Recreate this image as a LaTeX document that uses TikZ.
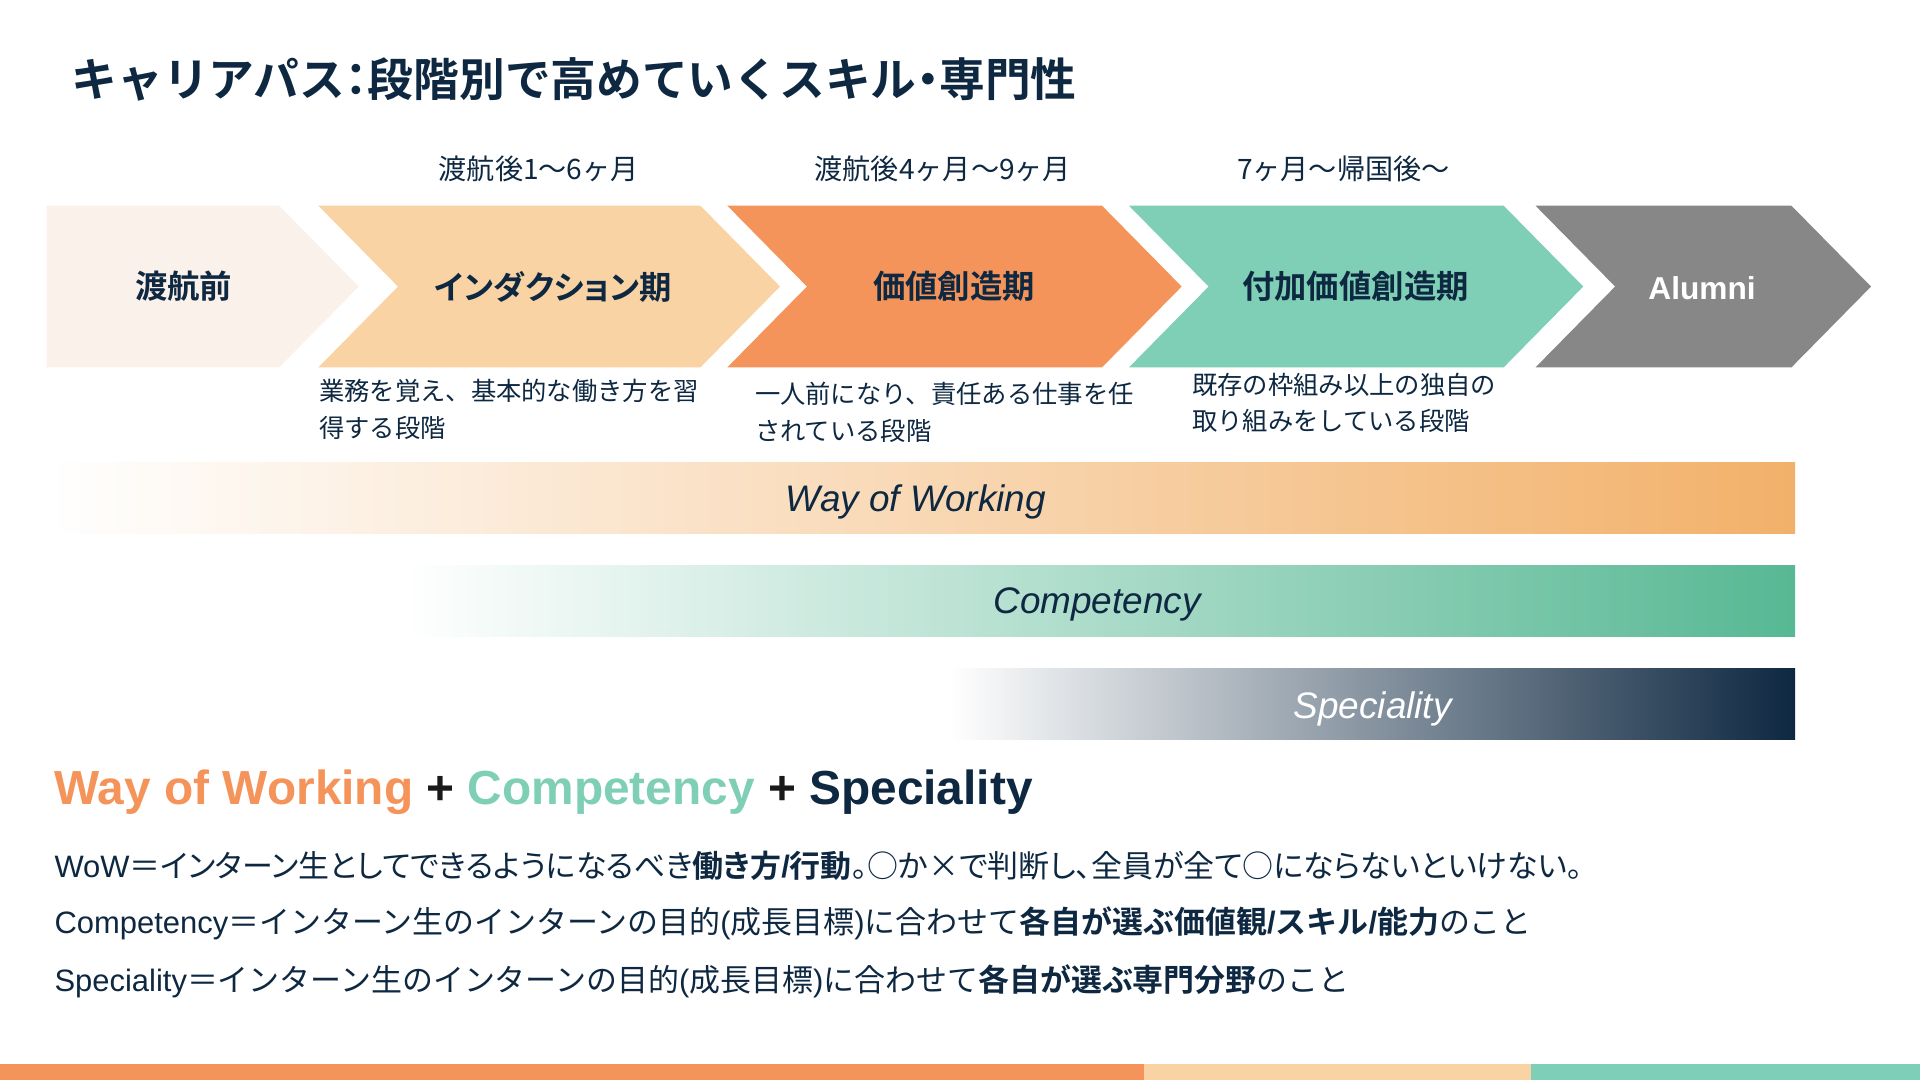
\documentclass[tikz,border=0pt]{standalone}
\usepackage{fontspec}
\setmainfont{Liberation Sans}
\newfontfamily\jp{Noto Sans CJK JP}[BoldFont={Noto Sans CJK JP Bold}]
\newfontfamily\jpp{Noto Sans CJK JP}[BoldFont={Noto Sans CJK JP Bold}, RawFeature=+palt]

\definecolor{navy}{HTML}{0E2841}
\definecolor{pale}{HTML}{FBF1EB}
\definecolor{peach}{HTML}{F9D3A4}
\definecolor{orange}{HTML}{F4945A}
\definecolor{mint}{HTML}{7ECFB6}
\definecolor{slate}{HTML}{878787}
\definecolor{wowend}{HTML}{F2B16A}
\definecolor{compend}{HTML}{57B894}
\definecolor{plus}{HTML}{1A1A1A}

\tikzset{
  stagelabel/.style={font=\jpp\bfseries\fontsize{9.2}{11}\selectfont, text=navy},
  periodlabel/.style={font=\jp\fontsize{8}{10}\selectfont, text=navy},
  notetext/.style={font=\jp\fontsize{7.2}{10.5}\selectfont, text=navy, align=left, anchor=west, inner sep=0pt},
  barlabel/.style={font=\itshape\fontsize{10.5}{12}\selectfont, text=navy},
  bodyline/.style={font=\fontsize{8.8}{11}\selectfont, text=navy, anchor=west, inner sep=0pt}
}

\begin{document}
\begin{tikzpicture}[x=0.012245cm, y=-0.012245cm]
  \useasboundingbox (0,0) rectangle (1568,882);
  \node[anchor=west, inner sep=0pt, text=navy, font=\jp\bfseries\fontsize{13}{15}\selectfont] (title) at (58,65)
    {キャリアパス{\jpp ：}段階別で高めていくスキル{\jpp ・}専門性};

  % periods
  \node[periodlabel] (p1) at (440,138) {渡航後1〜6ヶ月};
  \node[periodlabel] (p2) at (770,138) {渡航後4ヶ月〜9ヶ月};
  \node[periodlabel] (p3) at (1097,138) {7ヶ月〜帰国後〜};

  % stages
  \fill[pale] (38,168) -- (228,168) -- (293,234) -- (228,300) -- (38,300) -- cycle;
  \fill[peach] (260,168) -- (572,168) -- (637,234) -- (572,300) -- (260,300) -- (325,234) -- cycle;
  \fill[orange] (594,168) -- (900,168) -- (965,234) -- (900,300) -- (594,300) -- (659,234) -- cycle;
  \fill[mint] (922,168) -- (1228,168) -- (1293,234) -- (1228,300) -- (922,300) -- (987,234) -- cycle;
  \fill[slate] (1254,168) -- (1463,168) -- (1528,234) -- (1463,300) -- (1254,300) -- (1319,234) -- cycle;
  \node[stagelabel] (s0) at (150,234) {渡航前};
  \node[stagelabel] (s1) at (452,234) {インダクション期};
  \node[stagelabel] (s2) at (779,234) {価値創造期};
  \node[stagelabel] (s3) at (1107,234) {付加価値創造期};
  \node[stagelabel, text=white, font=\bfseries\fontsize{9}{11}\selectfont] (s4) at (1390,235) {Alumni};

  % notes
  \node[notetext] (n1) at (260,334) {業務を覚え、基本的な働き方を習\\得する段階};
  \node[notetext] (n2) at (616,337) {一人前になり、責任ある仕事を任\\されている段階};
  \node[notetext] (n3) at (973,329) {既存の枠組み以上の独自の\\取り組みをしている段階};

  % bars
  \shade[left color=white, right color=wowend] (38,378) rectangle (1466,436);
  \shade[left color=white, right color=compend] (330,462) rectangle (1466,520);
  \shade[left color=white, right color=navy] (775,546) rectangle (1466,604);
  \node[barlabel] (wow) at (748,410) {Way of Working};
  \node[barlabel] (comp) at (896,494) {Competency};
  \node[barlabel, text=white] (spec) at (1121,579) {Speciality};

  % summary
  \node[anchor=west, inner sep=0pt, font=\bfseries\fontsize{13.6}{16}\selectfont] (sum) at (44,647)
    {\color{orange}Way of Working \color{plus}+ \color{mint}Competency \color{plus}+ \color{navy}Speciality};
  \node[bodyline] (d1) at (44,707)
    {WoW{\jpp ＝インターン生としてできるようになるべき\textbf{働き方}}\textbf{/}{\jpp\textbf{行動}。○か×で判断し、全員が全て○にならないといけない。}};
  \node[bodyline] (d2) at (44,754)
    {Competency{\jp ＝インターン生のインターンの目的}({\jp 成長目標}){\jp に合わせて\textbf{各自が選ぶ価値観}}\textbf{/}{\jp\textbf{スキル}}\textbf{/}{\jp\textbf{能力}のこと}};
  \node[bodyline] (d3) at (44,801)
    {Speciality{\jp ＝インターン生のインターンの目的}({\jp 成長目標}){\jp に合わせて\textbf{各自が選ぶ専門分野}のこと}};

  % footer
  \fill[orange] (0,869) rectangle (934,882);
  \fill[peach] (934,869) rectangle (1250,882);
  \fill[mint] (1250,869) rectangle (1568,882);
\end{tikzpicture}
\end{document}
